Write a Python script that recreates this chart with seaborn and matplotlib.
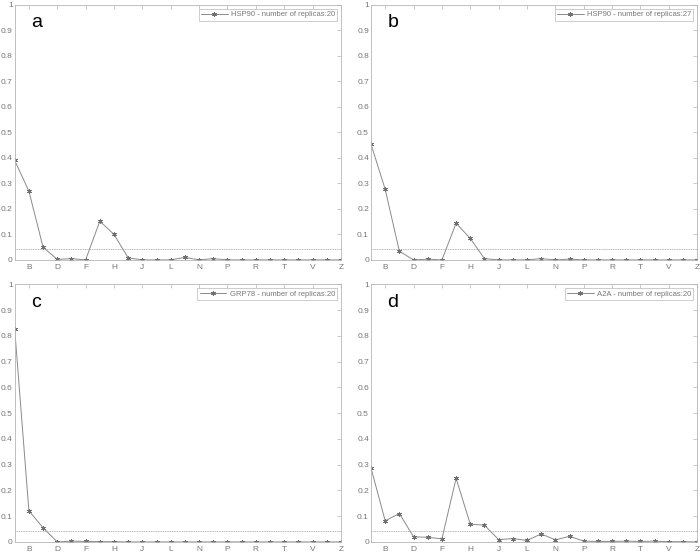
import pandas as pd
import matplotlib
matplotlib.use("Agg")
import matplotlib.pyplot as plt
import seaborn as sns

# categories (24 positions, labels on every other one)
cats = list("ABCDEFGHIJKLMNOPQRSTUVYZ")
tick_idx = list(range(1, 24, 2))

# series values
hsp90_20 = [0.39, 0.27, 0.05, 0.002, 0.005, 0.0, 0.152, 0.10, 0.008, 0.0, 0.0, 0.0,
            0.01, 0.0, 0.005, 0.0, 0.0, 0.0, 0.0, 0.0, 0.0, 0.0, 0.0, 0.0]
hsp90_27 = [0.454, 0.277, 0.034, 0.0, 0.003, 0.0, 0.144, 0.084, 0.005, 0.0, 0.0, 0.0,
            0.005, 0.0, 0.003, 0.0, 0.0, 0.0, 0.0, 0.0, 0.0, 0.0, 0.0, 0.0]
grp78_20 = [0.826, 0.121, 0.055, 0.0, 0.003, 0.002, 0.001, 0.001, 0.0, 0.0, 0.0, 0.0,
            0.0, 0.0, 0.0, 0.0, 0.0, 0.0, 0.0, 0.0, 0.0, 0.0, 0.0, 0.0]
a2a_20 = [0.287, 0.082, 0.11, 0.02, 0.018, 0.012, 0.247, 0.069, 0.065, 0.009, 0.013, 0.006,
          0.031, 0.008, 0.022, 0.003, 0.002, 0.002, 0.003, 0.002, 0.003, 0.001, 0.001, 0.0]
threshold = 0.043

panels = [
    ("a", "HSP90 - number of replicas:20", hsp90_20),
    ("b", "HSP90 - number of replicas:27", hsp90_27),
    ("c", "GRP78 - number of replicas:20", grp78_20),
    ("d", "A2A - number of replicas:20", a2a_20),
]

sns.set_style("white")
plt.rcParams["font.family"] = ["Liberation Sans", "DejaVu Sans"]

fig = plt.figure(figsize=(7, 5.53), dpi=100)
rects = [
    [0.021, 0.530, 0.466, 0.461],
    [0.530, 0.530, 0.466, 0.461],
    [0.021, 0.020, 0.466, 0.466],
    [0.530, 0.020, 0.466, 0.466],
]

line_col = "#8a8a8a"
axis_col = "#b5b5b5"
text_col = "#777777"
asterisk = (6, 2, 0)

for (letter, label, vals), rect in zip(panels, rects):
    ax = fig.add_axes(rect)
    df = pd.DataFrame({"pos": range(len(cats)), "freq": vals})
    sns.lineplot(data=df, x="pos", y="freq", ax=ax, color=line_col, linewidth=0.7,
                 marker=asterisk, markersize=3.5, markeredgewidth=0.6,
                 markeredgecolor="#707070", label=label)
    ax.axhline(threshold, color="#999999", linewidth=0.5, linestyle=(0, (1.5, 1)))
    ax.set_xlim(0, len(cats) - 1)
    ax.set_ylim(0, 1)
    ax.set_xticks(tick_idx)
    ax.set_xticklabels([cats[i] for i in tick_idx])
    yt = [i / 10 for i in range(11)]
    ax.set_yticks(yt)
    ax.set_yticklabels(["0"] + [f"{v:.1f}" for v in yt[1:-1]] + ["1"])
    ax.set_xlabel("")
    ax.set_ylabel("")
    ax.tick_params(direction="in", top=True, right=True, length=3, width=0.5,
                   color=axis_col, labelcolor=text_col, labelsize=6, pad=1.5)
    ax.tick_params(axis="x", pad=3)
    for s in ax.spines.values():
        s.set_color(axis_col)
        s.set_linewidth(0.6)
        s.set_visible(True)
    ax.text(0.05, 0.93, letter, transform=ax.transAxes, fontsize=14,
            color="black", va="center", ha="left")
    leg = ax.legend(loc="upper right", fontsize=5.5, frameon=True, fancybox=False,
                    borderpad=0.3, handlelength=3.5, handletextpad=0.4,
                    borderaxespad=0.5, labelcolor=text_col)
    leg.get_frame().set_edgecolor(axis_col)
    leg.get_frame().set_linewidth(0.6)

fig.savefig("out.png", dpi=100)
